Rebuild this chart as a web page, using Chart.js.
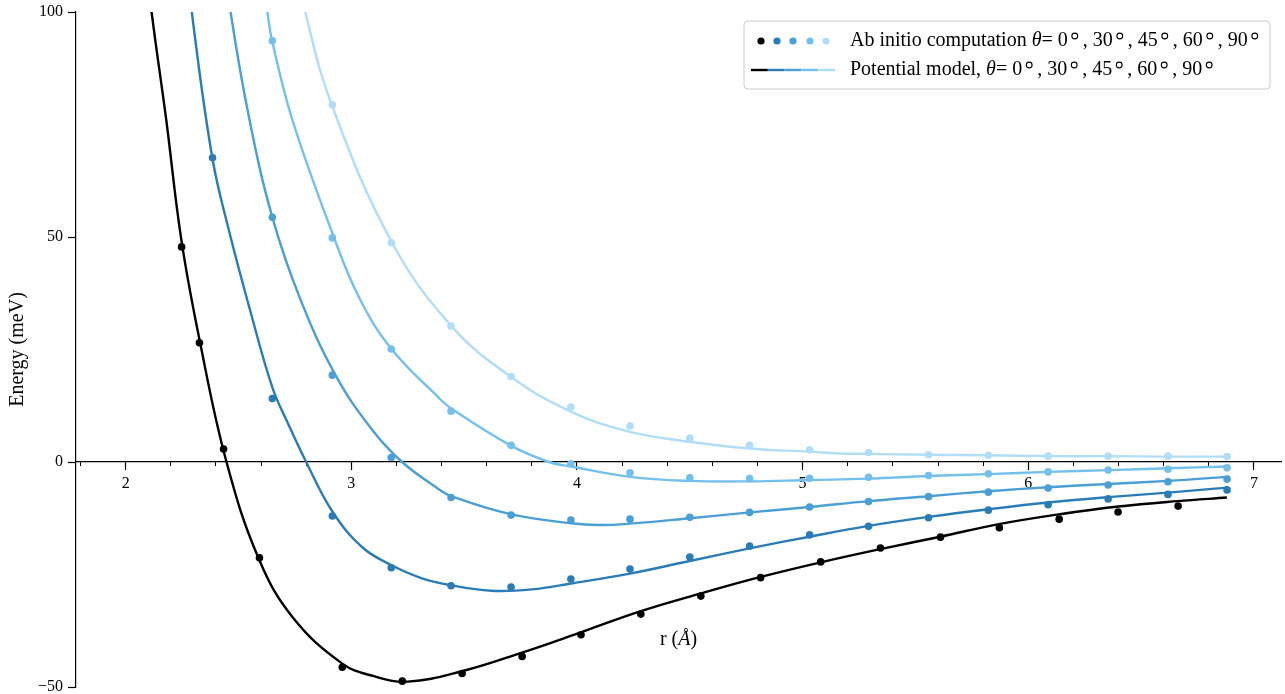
<!DOCTYPE html>
<html lang="en">
<head>
<meta charset="UTF-8">
<title>Energy vs r</title>
<script src="https://cdn.jsdelivr.net/npm/chart.js"></script>
<style>
  html, body { margin: 0; padding: 0; background: #fff; }
  #wrap { width: 1285px; height: 694px; position: relative; }
</style>
</head>
<body>
<div id="wrap"><canvas id="energy-chart"></canvas></div>
<script>
// angles and colours of the five orientations
const angleLabels = [0, 30, 45, 60, 90];
const seriesColors = ['#000000', '#2a7cb6', '#4a9fd5', '#74c0ec', '#b2ddf7'];

// tick values
const xMajorTicks = [2, 3, 4, 5, 6, 7];
const xMinorTicks = [1.8, 2.0, 2.2, 2.4, 2.6, 2.8, 3.0, 3.2, 3.4, 3.6, 3.8, 4.0, 4.2, 4.4, 4.6, 4.8,
                     5.0, 5.2, 5.4, 5.6, 5.8, 6.0, 6.2, 6.4, 6.6, 6.8, 7.0];
const yTicks = [-50, 0, 50, 100];

// ab initio points (r in Angstrom, energy in meV)
const abR0 = [2.248, 2.327, 2.434, 2.593, 2.960, 3.226, 3.491, 3.757, 4.018, 4.283, 4.549, 4.814,
              5.080, 5.345, 5.611, 5.872, 6.137, 6.398, 6.664];
const abE0 = [47.8, 26.5, 2.9, -21.3, -45.6, -48.7, -47.0, -43.2, -38.4, -33.8, -29.8, -25.7,
              -22.2, -19.1, -16.7, -14.6, -12.7, -11.1, -9.8];
const abR = [2.385, 2.650, 2.916, 3.177, 3.442, 3.708, 3.973, 4.235, 4.500, 4.765, 5.031, 5.292,
             5.558, 5.823, 6.088, 6.354, 6.619, 6.881];
const abE30 = [67.6, 14.1, -12.0, -23.5, -27.5, -27.8, -26.0, -23.8, -21.1, -18.7, -16.2, -14.3,
               -12.4, -10.7, -9.5, -8.2, -7.2, -6.2];
const abE45 = [null, 54.4, 19.3, 1.0, -7.9, -11.8, -12.9, -12.7, -12.3, -11.2, -10.0, -8.8,
               -7.7, -6.7, -5.8, -5.1, -4.4, -3.8];
const abE60 = [null, 93.6, 49.8, 25.1, 11.3, 3.7, -0.4, -2.4, -3.5, -3.7, -3.6, -3.4,
               -3.0, -2.6, -2.2, -1.8, -1.6, -1.3];
const abE90 = [null, null, 79.4, 48.7, 30.2, 19.0, 12.2, 8.0, 5.3, 3.7, 2.7, 2.1,
               1.6, 1.5, 1.3, 1.3, 1.3, 1.2];

// potential model curves
const mR0 = [2.09, 2.115, 2.18, 2.247, 2.33, 2.447, 2.59, 2.74, 2.96, 3.10, 3.25, 3.49, 3.76, 4.02,
             4.28, 4.55, 4.81, 5.08, 5.35, 5.61, 5.87, 6.14, 6.40, 6.66, 6.88];
const mE0 = [112, 100, 76, 49.3, 26.5, 0, -21.5, -34.5, -44.8, -47.6, -48.8, -46.5, -42.3, -37.8,
             -33.2, -29.2, -25.6, -22.3, -19.3, -16.6, -13.8, -11.6, -9.9, -8.7, -7.9];
const mR30 = [2.27, 2.293, 2.384, 2.457, 2.55, 2.65, 2.72, 2.80, 2.916, 3.05, 3.177, 3.31, 3.442,
              3.62, 3.80, 3.973, 4.235, 4.50, 4.765, 5.031, 5.292, 5.558, 5.823, 6.088, 6.354, 6.619, 6.881];
const mE30 = [112, 100, 67.6, 51.6, 34.0, 16.6, 8.5, 0, -11.0, -19.0, -22.9, -25.8, -27.4,
              -28.6, -28.3, -27.0, -24.8, -22.0, -19.2, -16.6, -14.2, -12.2, -10.5, -9.0, -7.8, -6.8, -5.7];
const mR45 = [2.445, 2.465, 2.549, 2.650, 2.77, 2.93, 3.093, 3.225, 3.389, 3.442, 3.705, 3.973, 4.10,
              4.235, 4.50, 4.765, 5.031, 5.292, 5.558, 5.823, 6.088, 6.354, 6.619, 6.881];
const mE45 = [110, 100, 76, 54.4, 36.7, 19.3, 7.1, 0, -6.1, -7.6, -11.6, -13.6, -14.0,
              -13.7, -12.5, -11.2, -10.0, -8.7, -7.6, -6.5, -5.6, -4.9, -4.2, -3.3];
const mR60 = [2.61, 2.628, 2.649, 2.739, 2.915, 3.035, 3.178, 3.389, 3.442, 3.705, 3.876, 3.973, 4.235,
              4.50, 4.765, 5.031, 5.292, 5.558, 5.823, 6.088, 6.354, 6.619, 6.881];
const mE60 = [106, 100, 93.6, 76, 51, 36.5, 25.1, 14.2, 11.9, 3.7, 0, -1.0, -3.3,
              -4.2, -4.3, -4.0, -3.7, -3.1, -2.7, -2.2, -1.8, -1.4, -1.0];
const mR90 = [2.78, 2.796, 2.913, 3.178, 3.442, 3.705, 3.973, 4.235, 4.50, 4.765, 5.031, 5.16,
              5.292, 5.558, 5.823, 6.088, 6.354, 6.619, 6.881];
const mE90 = [106, 100, 79.4, 49.0, 30.3, 19.0, 11.2, 6.7, 4.5, 3.0, 2.3, 1.9,
              1.8, 1.6, 1.5, 1.3, 1.3, 1.2, 1.2];

const SERIF = '"Liberation Serif", "Times New Roman", serif';
Chart.defaults.font.family = SERIF;
Chart.defaults.color = '#000';

function toXY(xs, ys) {
    return xs.map((x, i) => ({ x: x, y: ys[i] })).filter(p => p.y !== null);
}

const abData = [toXY(abR0, abE0), toXY(abR, abE30), toXY(abR, abE45), toXY(abR, abE60), toXY(abR, abE90)];
const modelData = [toXY(mR0, mE0), toXY(mR30, mE30), toXY(mR45, mE45), toXY(mR60, mE60), toXY(mR90, mE90)];

const datasets = [];
abData.forEach((d, i) => {
    datasets.push({
        label: 'Ab initio ' + angleLabels[i],
        data: d,
        showLine: false,
        pointRadius: 3.8,
        pointBackgroundColor: seriesColors[i],
        pointBorderWidth: 0
    });
});
modelData.forEach((d, i) => {
    datasets.push({
        label: 'Potential model ' + angleLabels[i],
        data: d,
        showLine: true,
        borderColor: seriesColors[i],
        borderWidth: 2.4,
        pointRadius: 0,
        tension: 0.4
    });
});

// draws a line of text made of pieces (plain, italic, degree ring)
function drawRich(ctx, parts, x, y, size) {
    parts.forEach(p => {
        if (p.ring) {
            x += 4;
            ctx.beginPath();
            ctx.lineWidth = 1.1;
            ctx.strokeStyle = '#000';
            ctx.arc(x + 3, y - 5, 2.9, 0, Math.PI * 2);
            ctx.stroke();
            x += 6 + 5;
            return;
        }
        ctx.font = (p.italic ? 'italic ' : '') + size + 'px ' + SERIF;
        ctx.fillText(p.t, x, y);
        x += ctx.measureText(p.t).width;
    });
}

function thetaParts(lead) {
    const parts = [{ t: lead }, { t: '\u03b8', italic: true }];
    angleLabels.forEach((a, i) => {
        parts.push({ t: (i === 0 ? '= ' : ', ') + a });
        parts.push({ ring: true });
    });
    return parts;
}

const annotations = {
    id: 'annotations',
    afterDraw(chart) {
        const ctx = chart.ctx;
        const area = chart.chartArea;
        ctx.save();

        // x axis label, sitting inside the plot as in the original
        ctx.fillStyle = '#000';
        ctx.textBaseline = 'middle';
        const pre = 'r (', post = ')';
        ctx.font = 'italic 20px ' + SERIF;
        const wA = ctx.measureText('\u00c5').width;
        ctx.font = '20px ' + SERIF;
        const wPre = ctx.measureText(pre).width, wPost = ctx.measureText(post).width;
        const lx = (area.left + area.right) / 2 - (wPre + wA + wPost) / 2;
        drawRich(ctx, [{ t: pre }, { t: '\u00c5', italic: true }, { t: post }], lx, 640, 20);

        // legend box
        const bx = 744, by = 21, bw = 526, bh = 68;
        ctx.beginPath();
        ctx.roundRect(bx, by, bw, bh, 4);
        ctx.fillStyle = 'rgba(255,255,255,0.8)';
        ctx.fill();
        ctx.strokeStyle = '#cccccc';
        ctx.lineWidth = 1;
        ctx.stroke();

        // row 1: dots
        const dotX = [761, 777, 793, 810, 826];
        seriesColors.forEach((c, i) => {
            ctx.beginPath();
            ctx.fillStyle = c;
            ctx.arc(dotX[i], 41, 3.6, 0, Math.PI * 2);
            ctx.fill();
        });
        // row 2: line made of five colour pieces
        const segW = (835 - 751) / seriesColors.length;
        ctx.lineWidth = 2.4;
        seriesColors.forEach((c, i) => {
            ctx.beginPath();
            ctx.strokeStyle = c;
            ctx.moveTo(751 + i * segW, 70);
            ctx.lineTo(751 + (i + 1) * segW, 70);
            ctx.stroke();
        });

        ctx.fillStyle = '#000';
        drawRich(ctx, thetaParts('Ab initio computation '), 850, 41, 20);
        drawRich(ctx, thetaParts('Potential model, '), 850, 70, 20);
        ctx.restore();
    }
};

new Chart(document.getElementById('energy-chart'), {
    type: 'scatter',
    data: { datasets: datasets },
    options: {
        responsive: true,
        maintainAspectRatio: false,
        animation: false,
        devicePixelRatio: 1,
        layout: { padding: { top: 12, right: 2, bottom: 7, left: 0 } },
        plugins: {
            legend: { display: false },
            tooltip: { enabled: false }
        },
        scales: {
            x: {
                type: 'linear',
                min: 1.78,
                max: 7.12,
                position: { y: 0 },
                z: 1,
                afterBuildTicks: s => { s.ticks = xMajorTicks.map(v => ({ value: v })); },
                grid: { drawOnChartArea: false, tickLength: 8, color: '#000', tickWidth: 1.2 },
                border: { color: '#000', width: 1.2 },
                ticks: {
                    color: '#000',
                    font: { size: 16 },
                    padding: 4,
                    autoSkip: false,
                    maxRotation: 0,
                    showLabelBackdrop: true,
                    backdropColor: 'rgba(255,255,255,0.6)',
                    backdropPadding: { top: 4, bottom: 3, left: 7, right: 7 },
                    callback: v => String(v)
                }
            },
            xMinor: {
                type: 'linear',
                axis: 'x',
                min: 1.78,
                max: 7.12,
                position: { y: 0 },
                z: 1,
                afterBuildTicks: s => { s.ticks = xMinorTicks.map(v => ({ value: v })); },
                grid: { drawOnChartArea: false, tickLength: 4, color: '#000', tickWidth: 1 },
                border: { display: false },
                ticks: { display: false }
            },
            y: {
                type: 'linear',
                min: -50,
                max: 100,
                position: 'left',
                afterBuildTicks: s => { s.ticks = yTicks.map(v => ({ value: v })); },
                afterFit: s => { s.width = 76; s.paddingTop = 0; s.paddingBottom = 0; },
                grid: { drawOnChartArea: false, tickLength: 8, color: '#000', tickWidth: 1.2 },
                border: { color: '#000', width: 1.2 },
                ticks: {
                    color: '#000',
                    font: { size: 16 },
                    padding: 5,
                    callback: v => String(v).replace('-', '\u2212')
                },
                title: {
                    display: true,
                    text: 'Energy (meV)',
                    color: '#000',
                    font: { size: 20 },
                    padding: { top: 6, bottom: 0 }
                }
            }
        }
    },
    plugins: [annotations]
});
</script>
</body>
</html>
